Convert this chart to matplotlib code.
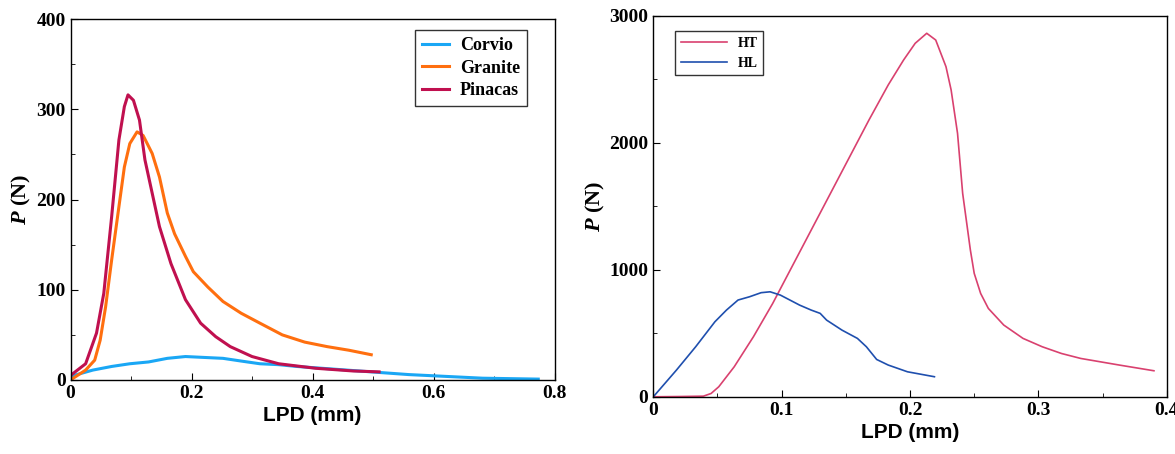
import matplotlib.pyplot as plt
from matplotlib.ticker import MultipleLocator, FuncFormatter

# left panel: LPD (mm) vs P (N)
corvio_x = [0.0, 0.037, 0.068, 0.098, 0.129, 0.16, 0.19, 0.221, 0.252, 0.282, 0.313,
            0.344, 0.374, 0.436, 0.497, 0.559, 0.62, 0.681, 0.773]
corvio_y = [4, 11, 15, 18, 20, 24, 26, 25, 24, 21, 18, 17, 15, 12, 9, 6, 4, 2, 1]

granite_x = [0.0, 0.025, 0.04, 0.049, 0.058, 0.068, 0.08, 0.089, 0.098, 0.11, 0.12, 0.135,
             0.147, 0.16, 0.172, 0.19, 0.203, 0.227, 0.252, 0.282, 0.313, 0.35, 0.387,
             0.424, 0.46, 0.497]
granite_y = [0, 11, 22, 44, 81, 133, 192, 236, 262, 275, 271, 251, 225, 185, 162, 137,
             120, 103, 87, 74, 63, 50, 42, 37, 33, 28]

pinacas_x = [0.0, 0.025, 0.043, 0.055, 0.068, 0.08, 0.089, 0.095, 0.104, 0.114, 0.123,
             0.135, 0.147, 0.166, 0.19, 0.215, 0.24, 0.264, 0.30, 0.344, 0.405, 0.467, 0.51]
pinacas_y = [5, 18, 52, 96, 181, 266, 303, 316, 310, 288, 244, 207, 170, 129, 89, 63,
             48, 37, 26, 18, 13, 10, 9]

# right panel
ht_x = [0.0, 0.02, 0.039, 0.045, 0.051, 0.063, 0.078, 0.093, 0.108, 0.123, 0.138, 0.153,
        0.168, 0.183, 0.195, 0.204, 0.213, 0.22, 0.228, 0.232, 0.237, 0.241, 0.247, 0.25,
        0.255, 0.261, 0.273, 0.288, 0.303, 0.318, 0.333, 0.363, 0.39]
ht_y = [0, 2, 5, 26, 79, 236, 473, 735, 1024, 1313, 1602, 1891, 2180, 2456, 2653, 2784,
        2863, 2810, 2600, 2417, 2075, 1602, 1156, 972, 814, 696, 565, 460, 394, 341, 302,
        250, 205]

hl_x = [0.0, 0.018, 0.033, 0.048, 0.057, 0.066, 0.075, 0.084, 0.091, 0.099, 0.114, 0.123,
        0.13, 0.135, 0.147, 0.159, 0.166, 0.174, 0.183, 0.198, 0.219]
hl_y = [0, 210, 394, 591, 683, 762, 788, 820, 827, 801, 722, 683, 657, 604, 525, 460,
        394, 294, 250, 197, 158]

plt.rcParams['font.family'] = 'Liberation Serif'
plt.rcParams['font.weight'] = 'bold'
plt.rcParams['mathtext.fontset'] = 'custom'
plt.rcParams['mathtext.bfit'] = 'Liberation Serif:italic:bold'
plt.rcParams['mathtext.it'] = 'Liberation Serif:italic:bold'

fig = plt.figure(figsize=(11.75, 4.54), dpi=100)
ax1 = fig.add_axes([0.060, 0.163, 0.412, 0.795])
ax2 = fig.add_axes([0.556, 0.126, 0.437, 0.839])

ax1.plot(corvio_x, corvio_y, color='#1aa7f5', lw=2.2, label='Corvio')
ax1.plot(granite_x, granite_y, color='#ff6f0f', lw=2.2, label='Granite')
ax1.plot(pinacas_x, pinacas_y, color='#c0104f', lw=2.2, label='Pinacas')
ax1.set_xlim(0, 0.8)
ax1.set_ylim(0, 400)
ax1.xaxis.set_major_locator(MultipleLocator(0.2))
ax1.xaxis.set_minor_locator(MultipleLocator(0.1))
ax1.yaxis.set_major_locator(MultipleLocator(100))
ax1.yaxis.set_minor_locator(MultipleLocator(50))
ax1.legend(loc='upper right', bbox_to_anchor=(0.943, 0.97), borderaxespad=0,
           fancybox=False, edgecolor='black', handlelength=1.5, handletextpad=0.6,
           labelspacing=0.3, borderpad=0.4,
           prop={'weight': 'bold', 'size': 13})

ax2.plot(ht_x, ht_y, color='#d9416f', lw=1.2, label='HT')
ax2.plot(hl_x, hl_y, color='#1f4fae', lw=1.2, label='HL')
ax2.set_xlim(0, 0.4)
ax2.set_ylim(0, 3000)
ax2.xaxis.set_major_locator(MultipleLocator(0.1))
ax2.xaxis.set_minor_locator(MultipleLocator(0.05))
ax2.yaxis.set_major_locator(MultipleLocator(1000))
ax2.yaxis.set_minor_locator(MultipleLocator(500))
ax2.legend(loc='upper left', bbox_to_anchor=(0.043, 0.96), borderaxespad=0,
           fancybox=False, edgecolor='black', handlelength=3.3,
           prop={'weight': 'bold', 'size': 10})

for ax in (ax1, ax2):
    ax.tick_params(which='both', direction='in', top=False, right=False, labelsize=14)
    ax.tick_params(which='major', length=5)
    ax.tick_params(which='minor', length=3)
    ax.xaxis.set_major_formatter(FuncFormatter(lambda v, p: '%g' % round(v, 3)))
    ax.set_xlabel('LPD (mm)', fontfamily='Liberation Sans', fontweight='bold', fontsize=15,
                  labelpad=3)
    ax.set_ylabel(r'$\mathbfit{P}$ (N)', fontweight='bold', fontsize=16, labelpad=2)
    for sp in ax.spines.values():
        sp.set_linewidth(1.0)
    ax.get_legend().get_frame().set_linewidth(1.0)

plt.savefig('out.png', dpi=100)
